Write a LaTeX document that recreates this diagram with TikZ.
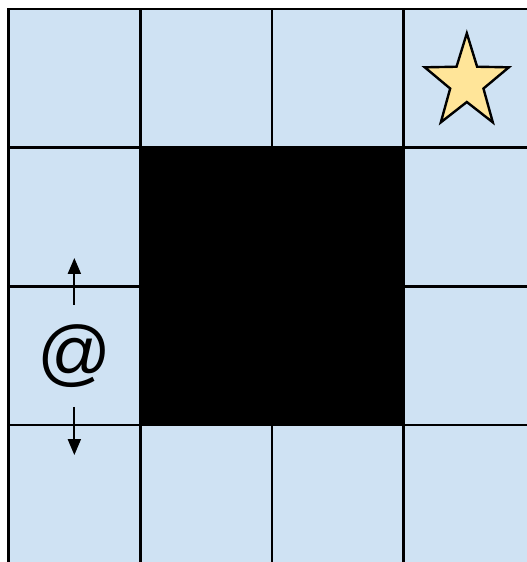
\documentclass[tikz,border=0pt]{standalone}
\usepackage{fontspec}
\setmainfont{Liberation Sans}
\usetikzlibrary{arrows.meta}
\definecolor{cellblue}{HTML}{CFE2F3}
\definecolor{goal}{HTML}{FFE599}

\begin{document}
\begin{tikzpicture}[x=131.7pt,y=-138.7pt,
  wall/.style={line width=2.7pt,line cap=rect},
  goalstar/.style={draw,line width=2.4pt,fill=goal,line join=miter},
  mv/.style={line width=2pt,-{Triangle[length=16pt,width=13pt]}}]
\useasboundingbox (-8.5pt,9pt) rectangle (518.5pt,-553pt);
% cells and the blocked square
\fill[cellblue] (0,0) rectangle (4,4);
\fill[black] (1,1) rectangle (3,3);
\foreach \i in {0,...,4}{\draw[wall] (\i,0)--(\i,4); \draw[wall] (0,\i)--(4,\i);}
% goal
\coordinate (g) at (3.48,0.53);
\draw[goalstar,shift={(g)}] (90:44.2pt and 49.2pt)
  \foreach \k in {0,...,3}{ -- (126+72*\k:17.5pt and 19.5pt) -- (162+72*\k:44.2pt and 49.2pt)}
  -- (54:17.5pt and 19.5pt) -- cycle;
% agent and its moves
\node[font=\fontsize{73}{80}\selectfont,minimum height=102pt,inner sep=0pt] (agent) at (0.5,2.5) {@};
\coordinate (up) at (0.5,1.795);\coordinate (dn) at (0.5,3.216);
\draw[mv] (agent.north)--(up);\draw[mv] (agent.south)--(dn);
\end{tikzpicture}
\end{document}
